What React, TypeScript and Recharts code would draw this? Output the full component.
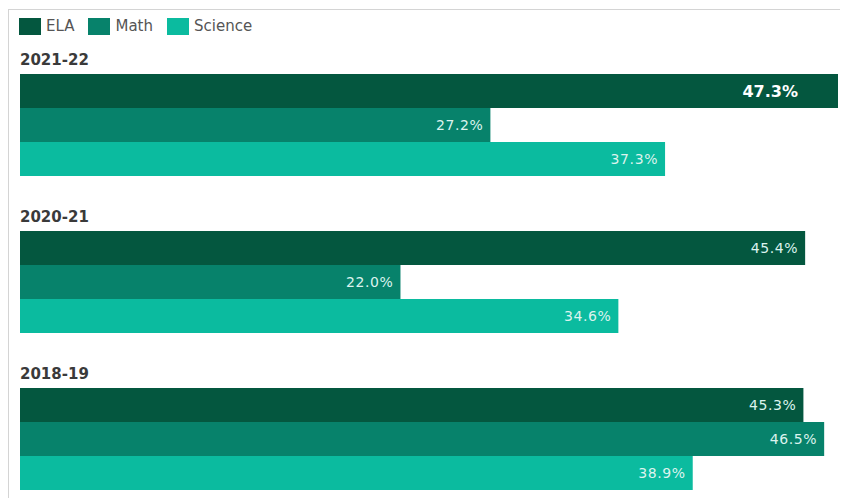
import { Bar, BarChart, LabelList, XAxis, YAxis } from 'recharts';

const years = ['2021-22', '2020-21', '2018-19'];
const ela = [47.3, 45.4, 45.3];
const math = [27.2, 22.0, 46.5];
const science = [37.3, 34.6, 38.9];

const SERIES = [
  { key: 'ela', name: 'ELA', color: '#04573f' },
  { key: 'math', name: 'Math', color: '#07826b' },
  { key: 'science', name: 'Science', color: '#0bbb9f' },
];

const data = years.map((year, i) => ({ year, ela: ela[i], math: math[i], science: science[i] }));
const maxValue = Math.max(...ela, ...math, ...science);

const FONT = '"DejaVu Sans", sans-serif';

// group title drawn just above the first bar of each year
function GroupTitle({ x, y, value }: any) {
  return (
    <text x={x} y={y - 9} textAnchor="start" fill="#3a3a3a" fontSize={15} fontWeight="bold" fontFamily={FONT}>
      {value}
    </text>
  );
}

function ValueLabel({ x, y, width, height, value }: any) {
  const top = value === maxValue;
  return (
    <text
      x={x + width - (top ? 40 : 7)}
      y={y + height / 2}
      textAnchor="end"
      dominantBaseline="central"
      fill={top ? '#ffffff' : '#dcf3ee'}
      fontSize={top ? 16 : 14}
      fontWeight={top ? 'bold' : 500}
      fontFamily={FONT}
      letterSpacing={top ? 0 : 0.6}
    >
      {`${value.toFixed(1)}%`}
    </text>
  );
}

export default function App() {
  return (
    <div style={{ position: 'relative', width: 840, height: 490, overflow: 'hidden', background: '#fff' }}>
      <div
        style={{
          position: 'absolute',
          left: 0,
          top: 1,
          width: 900,
          height: 600,
          borderTop: '1px solid #d4d4d4',
          borderLeft: '1px solid #d4d4d4',
        }}
      />
      <div style={{ position: 'absolute', left: 11, top: 9, display: 'flex', alignItems: 'center', fontFamily: FONT, fontSize: 15, color: '#555' }}>
        {SERIES.map((s) => (
          <div key={s.key} style={{ display: 'flex', alignItems: 'center', marginRight: 14 }}>
            <span style={{ display: 'inline-block', width: 22, height: 17, background: s.color, marginRight: 5 }} />
            <span>{s.name}</span>
          </div>
        ))}
      </div>
      <div style={{ position: 'absolute', left: 0, top: 0 }}>
        <BarChart
          width={840}
          height={510}
          data={data}
          layout="vertical"
          margin={{ top: 39, right: 10, left: 12, bottom: 0 }}
          barCategoryGap={27}
          barGap={0}
        >
          <XAxis type="number" hide domain={[0, maxValue]} />
          <YAxis type="category" dataKey="year" hide />
          {SERIES.map((s, i) => (
            <Bar key={s.key} dataKey={s.key} name={s.name} fill={s.color} isAnimationActive={false}>
              <LabelList dataKey={s.key} content={<ValueLabel />} />
              {i === 0 && <LabelList dataKey="year" content={<GroupTitle />} />}
            </Bar>
          ))}
        </BarChart>
      </div>
    </div>
  );
}
